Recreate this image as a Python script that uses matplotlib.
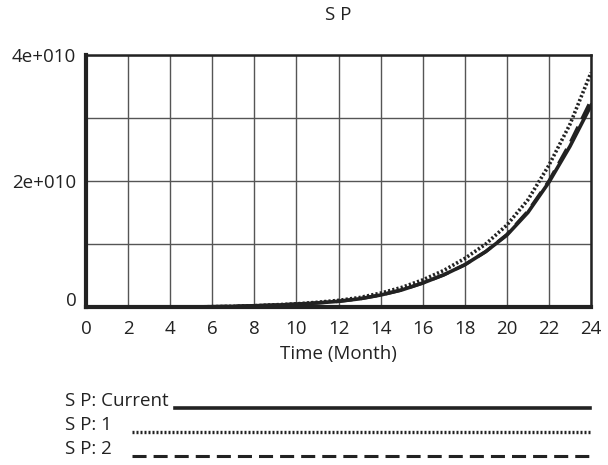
import matplotlib
matplotlib.use("Agg")
import matplotlib.pyplot as plt
from matplotlib.lines import Line2D
from matplotlib.transforms import ScaledTranslation
import numpy as np

plt.rcParams['font.family'] = ['Open Sans', 'DejaVu Sans']

months = list(range(0, 25))
sp_current = [0.0, 0.0, 0.0, 0.0, 0.0, 0.0, 0.005, 0.01, 0.02, 0.03, 0.045, 0.065, 0.09,
              0.13, 0.19, 0.27, 0.38, 0.51, 0.67, 0.88, 1.14, 1.5, 1.98, 2.55, 3.2]
sp_1 = [0.0, 0.0, 0.0, 0.0, 0.0, 0.0, 0.005, 0.01, 0.02, 0.035, 0.05, 0.075, 0.105,
        0.15, 0.22, 0.31, 0.43, 0.58, 0.77, 1.0, 1.3, 1.7, 2.25, 2.9, 3.72]
sp_2 = [0.0, 0.0, 0.0, 0.0, 0.0, 0.0, 0.005, 0.01, 0.02, 0.03, 0.045, 0.065, 0.09,
        0.13, 0.19, 0.27, 0.38, 0.51, 0.67, 0.88, 1.15, 1.52, 2.0, 2.6, 3.28]
scale = 1e10
x_ticks = list(range(0, 25, 2))
y_ticks = [0, 1e10, 2e10, 3e10, 4e10]
y_tick_labels = ["0", "", "2e+010", "", "4e+010"]
title = "S P"
xlabel = "Time (Month)"
legend_labels = ["S P: Current", "S P: 1", "S P: 2"]

W, H = 608, 465
FS = 13.5
fig = plt.figure(figsize=(W/100, H/100), dpi=100)
ax = fig.add_axes([86/W, 1-307/H, (591-86)/W, (307-55)/H])

yc = np.array(sp_current) * scale
y1 = np.array(sp_1) * scale
y2 = np.array(sp_2) * scale
ax.plot(months, y1, color='#222222', lw=2.6, linestyle=(0, (0.6, 0.6)), zorder=3)
ax.plot(months, y2, color='#222222', lw=2.4, linestyle=(0, (5, 2.5)), zorder=3)
ax.plot(months, yc, color='#222222', lw=2.6, zorder=4, solid_joinstyle='round')

ax.set_xlim(0, 24)
ax.set_ylim(0, 4e10)
ax.set_xticks(x_ticks, [str(v) for v in x_ticks])
ax.set_yticks(y_ticks, y_tick_labels)
ax.grid(True, color='#555555', lw=1.0)
ax.set_axisbelow(True)
ax.tick_params(axis='both', length=0, labelsize=FS, colors='#222222')
ax.tick_params(axis='x', pad=9)
ax.tick_params(axis='y', pad=7)
# lift the "0" label slightly as in the reference
lab0 = ax.get_yticklabels()[0]
lab0.set_transform(lab0.get_transform() + ScaledTranslation(0, 8/100, fig.dpi_scale_trans))
for s in ['top', 'right']:
    ax.spines[s].set_linewidth(1.8)
    ax.spines[s].set_color('#222222')
for s in ['left', 'bottom']:
    ax.spines[s].set_linewidth(3.0)
    ax.spines[s].set_color('#222222')

fig.text(338/W, 1-15/H, title, ha='center', va='center', fontsize=FS, color='#222222')
fig.text(338/W, 1-354/H, xlabel, ha='center', va='center', fontsize=FS, color='#222222')

# legend below
rows = [(408, 65, 175, '-', 2.6), (432, 65, 132, (0, (0.6, 0.6)), 2.4), (456, 65, 132, (0, (4.6, 2.3)), 2.2)]
for lab, (yy, tx, lx, ls, lw) in zip(legend_labels, rows):
    fig.text(tx/W, 1-(yy-7)/H, lab, ha='left', va='center', fontsize=FS, color='#222222')
    fig.add_artist(Line2D([lx/W, 590/W], [1-yy/H, 1-yy/H], transform=fig.transFigure,
                          color='#222222', lw=lw, linestyle=ls))

fig.savefig("out.png", dpi=100, facecolor='white')
